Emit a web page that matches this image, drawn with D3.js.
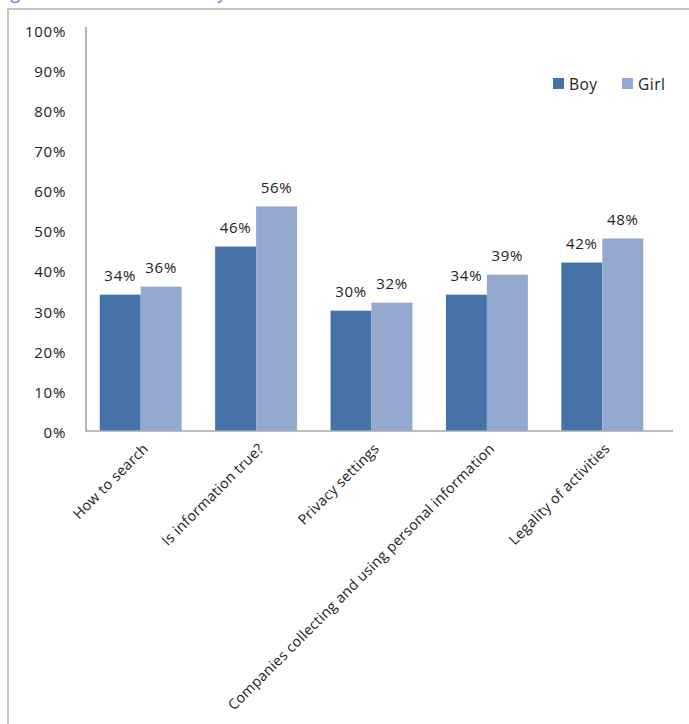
<!DOCTYPE html>
<html>
<head>
<meta charset="utf-8">
<script src="https://cdn.jsdelivr.net/npm/d3@7"></script>
<style>
  html, body { margin: 0; padding: 0; background: #fff; overflow: hidden; }
  svg { display: block; }
  text { font-family: "Open Sans", sans-serif; fill: #222; }
</style>
</head>
<body>
<svg id="chart" width="689" height="724"></svg>
<script>
// Topics children reported learning about, split by gender
const categories = [
  "How to search",
  "Is information true?",
  "Privacy settings",
  "Companies collecting and using personal information",
  "Legality of activities"
];
const series = ["Boy", "Girl"];
const boyValues = [0.34, 0.46, 0.30, 0.34, 0.42];
const girlValues = [0.36, 0.56, 0.32, 0.39, 0.48];
const yTicks = [0, 0.1, 0.2, 0.3, 0.4, 0.5, 0.6, 0.7, 0.8, 0.9, 1.0];

const colors = { Boy: "#4572a7", Girl: "#93a9cf" };
const valuesBySeries = { Boy: boyValues, Girl: girlValues };

const svg = d3.select("#chart");

// Caption above the frame (mostly outside the visible area)
svg.append("text")
  .attr("x", -3).attr("y", -1)
  .style("font-size", "17.5px")
  .style("fill", "#4a86c8")
  .text("Figure 7: Internet lessons by sex");

// Outer frame
svg.append("rect")
  .attr("x", 8).attr("y", 9)
  .attr("width", 720).attr("height", 740)
  .attr("fill", "none")
  .attr("stroke", "#c4c4c4")
  .attr("stroke-width", 2);

const x0 = d3.scaleBand()
  .domain(categories)
  .range([83, 660])
  .paddingInner(0.29)
  .paddingOuter(0.145);

const x1 = d3.scaleBand()
  .domain(series)
  .range([0, x0.bandwidth()]);

const y = d3.scaleLinear()
  .domain([0, 1])
  .range([431, 30]);

// Y axis: labels only, with a plain line
const yAxis = d3.axisLeft(y)
  .tickValues(yTicks)
  .tickFormat(d3.format(".0%"))
  .tickSize(0)
  .tickPadding(0);

const yg = svg.append("g")
  .attr("transform", "translate(66,0)")
  .call(yAxis);
yg.select(".domain").remove();
yg.selectAll("text")
  .attr("dy", "0.42em")
  .style("font-size", "15px")
  .style("letter-spacing", "0.7px")
  .style("font-family", "'Open Sans', sans-serif")
  .style("fill", "#222");

svg.append("line")
  .attr("x1", 86).attr("x2", 86)
  .attr("y1", 27).attr("y2", y(0))
  .attr("stroke", "#a8a8a8").attr("stroke-width", 1.6);

// Bars
const groups = svg.append("g").selectAll("g")
  .data(categories)
  .join("g")
  .attr("transform", d => `translate(${x0(d)},0)`);

groups.selectAll("rect")
  .data((d, i) => series.map(s => ({ s, v: valuesBySeries[s][i] })))
  .join("rect")
  .attr("x", d => x1(d.s))
  .attr("y", d => y(d.v))
  .attr("width", x1.bandwidth())
  .attr("height", d => y(0) - y(d.v))
  .attr("fill", d => colors[d.s]);

// Value labels
groups.selectAll("text.value")
  .data((d, i) => series.map(s => ({ s, v: valuesBySeries[s][i] })))
  .join("text")
  .attr("class", "value")
  .attr("x", d => x1(d.s) + x1.bandwidth() / 2)
  .attr("y", d => y(d.v) - 19)
  .attr("dy", "0.36em")
  .attr("text-anchor", "middle")
  .style("font-size", "15px")
  .style("letter-spacing", "0.7px")
  .text(d => d3.format(".0%")(d.v));

// X axis baseline
svg.append("line")
  .attr("x1", 85).attr("x2", 673)
  .attr("y1", y(0)).attr("y2", y(0))
  .attr("stroke", "#a8a8a8").attr("stroke-width", 1.6);

// Rotated category labels
const xAxis = d3.axisBottom(x0).tickSize(0).tickPadding(0);
const xg = svg.append("g")
  .attr("transform", `translate(0,${y(0)})`)
  .call(xAxis);
xg.select(".domain").remove();
xg.selectAll(".tick text")
  .attr("text-anchor", "end")
  .attr("dy", "0.35em")
  .attr("transform", "translate(5,15) rotate(-45)")
  .style("font-size", "14.3px")
  .style("letter-spacing", "0.3px")
  .style("font-family", "'Open Sans', sans-serif")
  .style("fill", "#222");

// Legend
const legend = svg.append("g");
const legendItems = [
  { s: "Boy", x: 553 },
  { s: "Girl", x: 622 }
];
legendItems.forEach(item => {
  legend.append("rect")
    .attr("x", item.x).attr("y", 78)
    .attr("width", 11).attr("height", 11)
    .attr("fill", colors[item.s]);
  legend.append("text")
    .attr("x", item.x + 16).attr("y", 84)
    .attr("dy", "0.36em")
    .style("font-size", "15.5px")
    .style("letter-spacing", "0.5px")
    .text(item.s);
});
</script>
</body>
</html>
